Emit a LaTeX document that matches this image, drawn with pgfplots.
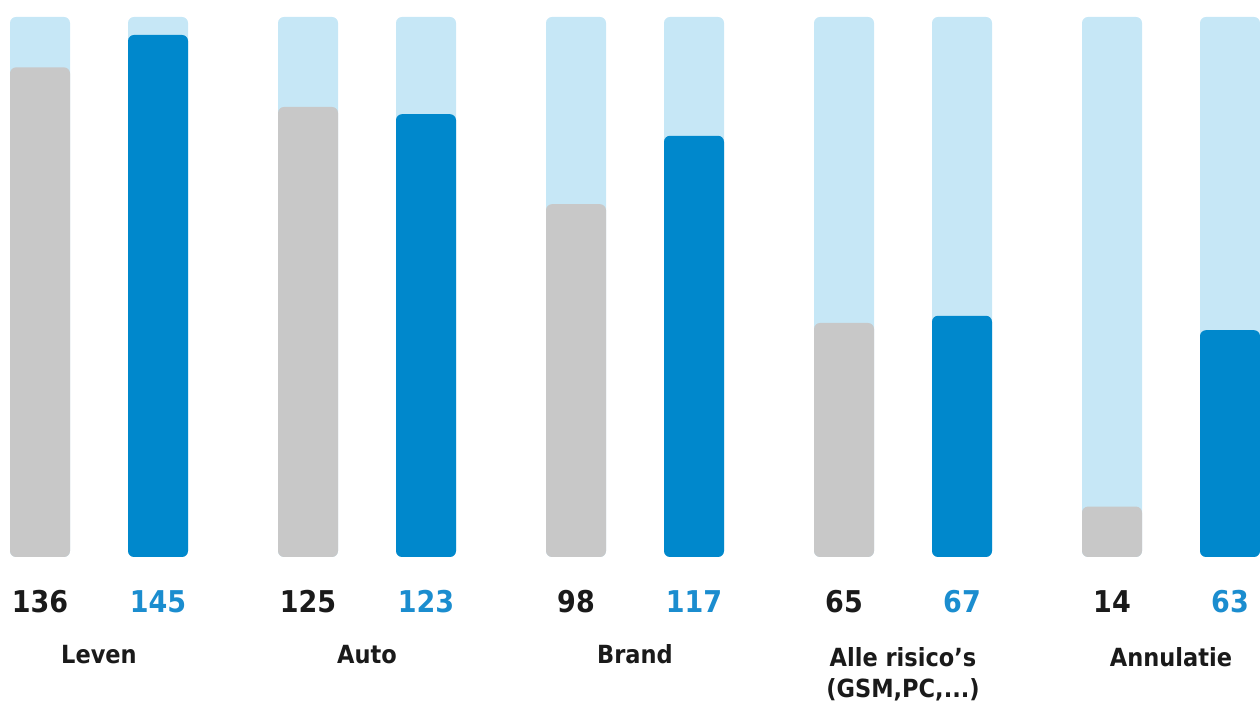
\documentclass[border=0pt]{standalone}
\usepackage{pgfplots}
\pgfplotsset{compat=1.18}
\usepackage{fontspec}
\setmainfont{DejaVu Sans}
\newfontfamily\numfont[FakeStretch=0.9]{DejaVu Sans Bold}
\definecolor{bgblue}{HTML}{C6E7F6}
\definecolor{barblue}{HTML}{0088CC}
\definecolor{bargray}{HTML}{C8C8C8}
\definecolor{txtblue}{HTML}{1B8DCF}
\definecolor{txtdark}{HTML}{1A1A1A}
\begin{document}
\begin{tikzpicture}
\begin{axis}[
  scale only axis, width=630pt, height=353.5pt,
  xmin=0, xmax=1260, ymin=-41.67, ymax=154.72,
  hide axis, clip=false,
]
% background bars
\addplot[ybar, bar width=30pt, bar shift=0pt, fill=bgblue, draw=none, rounded corners=3pt]
  coordinates {(40,150) (158,150) (308,150) (426,150) (576,150) (694,150) (844,150) (962,150) (1112,150) (1230,150)};
% gray series
\addplot[ybar, bar width=30pt, bar shift=0pt, fill=bargray, draw=none, rounded corners=3pt]
  coordinates {(40,136) (308,125) (576,98) (844,65) (1112,14)};
% blue series
\addplot[ybar, bar width=30pt, bar shift=0pt, fill=barblue, draw=none, rounded corners=3pt]
  coordinates {(158,145) (426,123) (694,117) (962,67) (1230,63)};
% value labels
\addplot[only marks, mark=none, nodes near coords, point meta=explicit symbolic,
  every node near coord/.style={anchor=base, inner sep=0pt, text=txtdark, font=\numfont\fontsize{15pt}{18pt}\selectfont}]
  coordinates {(40,-15.3)[136] (308,-15.3)[125] (576,-15.3)[98] (844,-15.3)[65] (1112,-15.3)[14]};
\addplot[only marks, mark=none, nodes near coords, point meta=explicit symbolic,
  every node near coord/.style={anchor=base, inner sep=0pt, text=txtblue, font=\numfont\fontsize{15pt}{18pt}\selectfont}]
  coordinates {(158,-15.3)[145] (426,-15.3)[123] (694,-15.3)[117] (962,-15.3)[67] (1230,-15.3)[63]};
% category labels
\tikzset{cat/.style={anchor=base, inner sep=0pt, text=txtdark, font=\numfont\fontsize{12.5pt}{15pt}\selectfont}}
\node[cat] at (axis cs:99,-29.7) {Leven};
\node[cat] at (axis cs:367,-29.7) {Auto};
\node[cat] at (axis cs:635,-29.7) {Brand};
\node[cat] at (axis cs:903,-30.3) {Alle risico’s};
\node[cat] at (axis cs:903,-38.9) {(GSM,PC,...)};
\node[cat] at (axis cs:1171,-30.3) {Annulatie};
\path (rel axis cs:0,0) rectangle (rel axis cs:1,1);
\end{axis}
\end{tikzpicture}
\end{document}
